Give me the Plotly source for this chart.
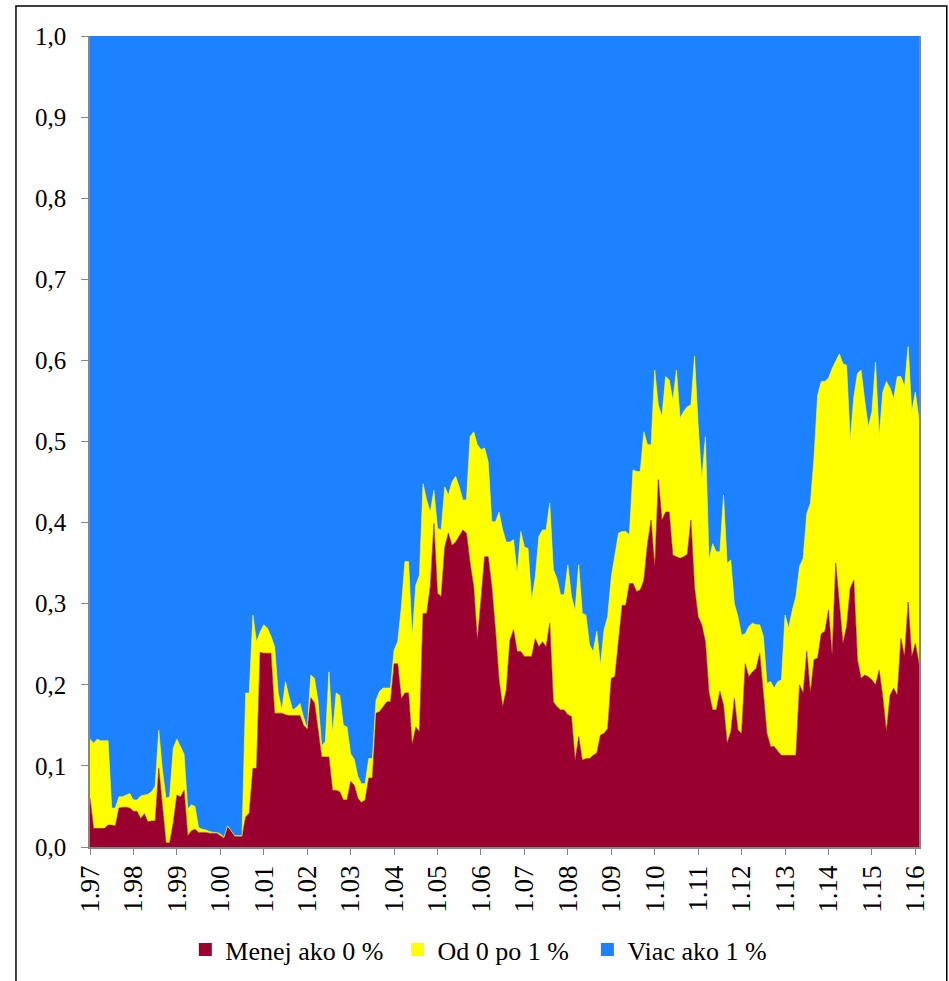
import plotly.graph_objects as go

# --- data: monthly shares, Jan 1997 .. Feb 2016 ---
roky = list(range(1997, 2017))
mesiace = [f"{m}.{r % 100:02d}" for r in roky for m in range(1, 13)][:230]

menej = [
    0.060, 0.023, 0.023, 0.023, 0.023, 0.027, 0.027, 0.026, 0.048, 0.049, 0.049, 0.048,  # 1997
    0.044, 0.044, 0.035, 0.041, 0.031, 0.032, 0.032, 0.097, 0.050, 0.005, 0.005, 0.030,  # 1998
    0.064, 0.062, 0.070, 0.014, 0.020, 0.022, 0.018, 0.018, 0.018, 0.017, 0.017, 0.017,  # 1999
    0.014, 0.011, 0.025, 0.020, 0.013, 0.013, 0.013, 0.037, 0.042, 0.097, 0.097, 0.240,  # 2000
    0.239, 0.239, 0.239, 0.165, 0.165, 0.165, 0.163, 0.162, 0.162, 0.162, 0.162, 0.150,  # 2001
    0.146, 0.184, 0.178, 0.145, 0.111, 0.111, 0.111, 0.070, 0.070, 0.068, 0.058, 0.058,  # 2002
    0.081, 0.076, 0.060, 0.055, 0.058, 0.085, 0.085, 0.165, 0.167, 0.173, 0.179, 0.179,  # 2003
    0.226, 0.226, 0.183, 0.190, 0.190, 0.126, 0.148, 0.142, 0.288, 0.288, 0.321, 0.399,  # 2004
    0.313, 0.309, 0.370, 0.387, 0.372, 0.376, 0.383, 0.391, 0.387, 0.350, 0.321, 0.255,  # 2005
    0.305, 0.358, 0.358, 0.321, 0.268, 0.206, 0.173, 0.194, 0.255, 0.268, 0.241, 0.241,  # 2006
    0.235, 0.235, 0.235, 0.257, 0.247, 0.253, 0.247, 0.276, 0.179, 0.173, 0.169, 0.169,  # 2007
    0.163, 0.161, 0.107, 0.136, 0.107, 0.109, 0.109, 0.113, 0.116, 0.138, 0.140, 0.146,  # 2008
    0.208, 0.210, 0.257, 0.298, 0.298, 0.325, 0.325, 0.315, 0.317, 0.329, 0.374, 0.403,  # 2009
    0.344, 0.453, 0.403, 0.413, 0.413, 0.360, 0.358, 0.356, 0.358, 0.361, 0.403, 0.320,  # 2010
    0.284, 0.274, 0.253, 0.190, 0.169, 0.169, 0.192, 0.175, 0.128, 0.142, 0.183, 0.144,  # 2011
    0.140, 0.226, 0.210, 0.216, 0.220, 0.239, 0.190, 0.140, 0.124, 0.124, 0.118, 0.113,  # 2012
    0.113, 0.113, 0.113, 0.113, 0.200, 0.190, 0.241, 0.190, 0.231, 0.233, 0.263, 0.266,  # 2013
    0.292, 0.237, 0.350, 0.300, 0.251, 0.272, 0.319, 0.329, 0.231, 0.208, 0.212, 0.210,  # 2014
    0.206, 0.200, 0.218, 0.185, 0.142, 0.187, 0.196, 0.187, 0.257, 0.235, 0.302, 0.235,  # 2015
    0.251, 0.226,  # 2016
]

od_0_po_1 = [
    0.073, 0.105, 0.110, 0.108, 0.108, 0.104, 0.021, 0.022, 0.014, 0.013, 0.015, 0.018,  # 1997
    0.014, 0.014, 0.028, 0.023, 0.034, 0.036, 0.043, 0.047, 0.045, 0.055, 0.057, 0.092,  # 1998
    0.069, 0.062, 0.044, 0.033, 0.032, 0.028, 0.006, 0.004, 0.003, 0.002, 0.001, 0.001,  # 1999
    0.002, 0.001, 0.001, 0.000, 0.001, 0.001, 0.001, 0.153, 0.148, 0.189, 0.156, 0.025,  # 2000
    0.035, 0.031, 0.021, 0.082, 0.025, 0.004, 0.041, 0.023, 0.007, 0.010, 0.015, 0.010,  # 2001
    0.000, 0.028, 0.030, 0.035, 0.014, 0.019, 0.105, 0.070, 0.120, 0.119, 0.092, 0.090,  # 2002
    0.034, 0.032, 0.027, 0.023, 0.020, 0.024, 0.024, 0.016, 0.025, 0.023, 0.017, 0.017,  # 2003
    0.017, 0.027, 0.113, 0.162, 0.162, 0.133, 0.175, 0.193, 0.160, 0.140, 0.092, 0.041,  # 2004
    0.080, 0.082, 0.074, 0.047, 0.078, 0.081, 0.061, 0.037, 0.041, 0.156, 0.191, 0.241,  # 2005
    0.185, 0.134, 0.117, 0.080, 0.133, 0.207, 0.218, 0.182, 0.121, 0.111, 0.096, 0.148,  # 2006
    0.135, 0.133, 0.070, 0.076, 0.136, 0.138, 0.144, 0.148, 0.163, 0.158, 0.142, 0.142,  # 2007
    0.185, 0.148, 0.185, 0.212, 0.181, 0.177, 0.140, 0.128, 0.150, 0.086, 0.128, 0.138,  # 2008
    0.125, 0.148, 0.130, 0.091, 0.091, 0.060, 0.140, 0.148, 0.146, 0.183, 0.122, 0.093,  # 2009
    0.244, 0.092, 0.128, 0.167, 0.163, 0.191, 0.230, 0.173, 0.179, 0.182, 0.142, 0.285,  # 2010
    0.236, 0.179, 0.253, 0.164, 0.205, 0.195, 0.172, 0.259, 0.222, 0.212, 0.117, 0.140,  # 2011
    0.121, 0.037, 0.062, 0.060, 0.054, 0.035, 0.070, 0.062, 0.080, 0.072, 0.086, 0.093,  # 2012
    0.173, 0.157, 0.179, 0.196, 0.146, 0.166, 0.170, 0.234, 0.249, 0.324, 0.311, 0.308,  # 2013
    0.286, 0.353, 0.250, 0.308, 0.345, 0.322, 0.183, 0.226, 0.353, 0.380, 0.339, 0.308,  # 2014
    0.331, 0.398, 0.288, 0.376, 0.432, 0.379, 0.357, 0.393, 0.323, 0.333, 0.315, 0.302,  # 2015
    0.310, 0.301,  # 2016
]

viac = [
    0.867, 0.872, 0.867, 0.869, 0.869, 0.869, 0.952, 0.952, 0.938, 0.938, 0.936, 0.934,  # 1997
    0.942, 0.942, 0.937, 0.936, 0.935, 0.932, 0.925, 0.856, 0.905, 0.940, 0.938, 0.878,  # 1998
    0.867, 0.876, 0.886, 0.953, 0.948, 0.950, 0.976, 0.978, 0.979, 0.981, 0.982, 0.982,  # 1999
    0.984, 0.988, 0.974, 0.980, 0.986, 0.986, 0.986, 0.810, 0.810, 0.714, 0.747, 0.735,  # 2000
    0.726, 0.730, 0.740, 0.753, 0.810, 0.831, 0.796, 0.815, 0.831, 0.828, 0.823, 0.840,  # 2001
    0.854, 0.788, 0.792, 0.820, 0.875, 0.870, 0.784, 0.860, 0.810, 0.813, 0.850, 0.852,  # 2002
    0.885, 0.892, 0.913, 0.922, 0.922, 0.891, 0.891, 0.819, 0.808, 0.804, 0.804, 0.804,  # 2003
    0.757, 0.747, 0.704, 0.648, 0.648, 0.741, 0.677, 0.665, 0.552, 0.572, 0.587, 0.560,  # 2004
    0.607, 0.609, 0.556, 0.566, 0.550, 0.543, 0.556, 0.572, 0.572, 0.494, 0.488, 0.504,  # 2005
    0.510, 0.508, 0.525, 0.599, 0.599, 0.587, 0.609, 0.624, 0.624, 0.621, 0.663, 0.611,  # 2006
    0.630, 0.632, 0.695, 0.667, 0.617, 0.609, 0.609, 0.576, 0.658, 0.669, 0.689, 0.689,  # 2007
    0.652, 0.691, 0.708, 0.652, 0.712, 0.714, 0.751, 0.759, 0.734, 0.776, 0.732, 0.716,  # 2008
    0.667, 0.642, 0.613, 0.611, 0.611, 0.615, 0.535, 0.537, 0.537, 0.488, 0.504, 0.504,  # 2009
    0.412, 0.455, 0.469, 0.420, 0.424, 0.449, 0.412, 0.471, 0.463, 0.457, 0.455, 0.395,  # 2010
    0.480, 0.547, 0.494, 0.646, 0.626, 0.636, 0.636, 0.566, 0.650, 0.646, 0.700, 0.716,  # 2011
    0.739, 0.737, 0.728, 0.724, 0.726, 0.726, 0.740, 0.798, 0.796, 0.804, 0.796, 0.794,  # 2012
    0.714, 0.730, 0.708, 0.691, 0.654, 0.644, 0.589, 0.576, 0.520, 0.443, 0.426, 0.426,  # 2013
    0.422, 0.410, 0.400, 0.392, 0.404, 0.406, 0.498, 0.445, 0.416, 0.412, 0.449, 0.482,  # 2014
    0.463, 0.402, 0.494, 0.439, 0.426, 0.434, 0.447, 0.420, 0.420, 0.432, 0.383, 0.463,  # 2015
    0.439, 0.473,  # 2016
]

serie = [
    ("Menej ako 0 %", menej, "#990030"),
    ("Od 0 po 1 %", od_0_po_1, "#FFFF00"),
    ("Viac ako 1 %", viac, "#1C82FF"),
]

tick_labels = [m for m in mesiace if m.startswith("1.")]

FONT = "Liberation Serif, Times New Roman, serif"
AXIS_GRAY = "#868686"

fig = go.Figure()
for name, vals, col in serie:
    fig.add_trace(go.Scatter(
        x=mesiace, y=vals, name=name, mode="lines", stackgroup="one",
        line=dict(width=0.6, color=col), fillcolor=col,
        showlegend=False, hoverinfo="skip",
    ))

# legend entries (one small legend per series so spacing follows the original)
legend_ids = ["legend", "legend2", "legend3"]
legend_x = [0.1150, 0.3710, 0.6000]
for (name, vals, col), lid in zip(serie, legend_ids):
    fig.add_trace(go.Scatter(
        x=[None], y=[None], name=name, mode="markers",
        marker=dict(symbol="square", size=13, color=col),
        showlegend=True, legend=lid,
    ))

leg_common = dict(
    orientation="h", yref="container", y=0.032, xanchor="left", yanchor="middle",
    font=dict(family=FONT, size=26, color="black"),
    itemwidth=30, bgcolor="rgba(0,0,0,0)", borderwidth=0,
)

fig.update_layout(
    width=949, height=981,
    margin=dict(l=90, r=30, t=36, b=134, autoexpand=False),
    paper_bgcolor="white", plot_bgcolor="white",
    font=dict(family=FONT, size=25, color="black"),
    separators=", ",
    showlegend=True,
    legend=dict(x=legend_x[0], **leg_common),
    legend2=dict(x=legend_x[1], **leg_common),
    legend3=dict(x=legend_x[2], **leg_common),
    hovermode=False,
    shapes=[dict(
        type="rect", xref="paper", yref="paper",
        x0=-0.0893, x1=1.0335, y0=-0.19, y1=1.037,
        line=dict(color="black", width=1.5), fillcolor="rgba(0,0,0,0)",
    )],
)

fig.update_xaxes(
    type="category", range=[0, len(mesiace) - 1],
    tickmode="array", tickvals=tick_labels, ticktext=tick_labels,
    tickangle=-90, ticks="outside", ticklen=6, tickcolor=AXIS_GRAY, tickwidth=1,
    showline=True, linecolor=AXIS_GRAY, linewidth=1.5,
    showgrid=False, zeroline=False, automargin=False,
    tickfont=dict(family=FONT, size=27, color="black"),
)
fig.update_yaxes(
    range=[0, 1], dtick=0.1, tick0=0, tickformat=".1f",
    ticks="outside", ticklen=7, tickcolor=AXIS_GRAY, tickwidth=1,
    showline=True, linecolor=AXIS_GRAY, linewidth=1.5, mirror=True,
    showgrid=False, zeroline=False, ticklabelstandoff=10, automargin=False,
    tickfont=dict(family=FONT, size=25, color="black"),
)

fig.write_html(
    "out.html",
    config={"displayModeBar": False},
    post_script="document.body.style.margin='0';document.body.style.overflow='hidden';",
)
